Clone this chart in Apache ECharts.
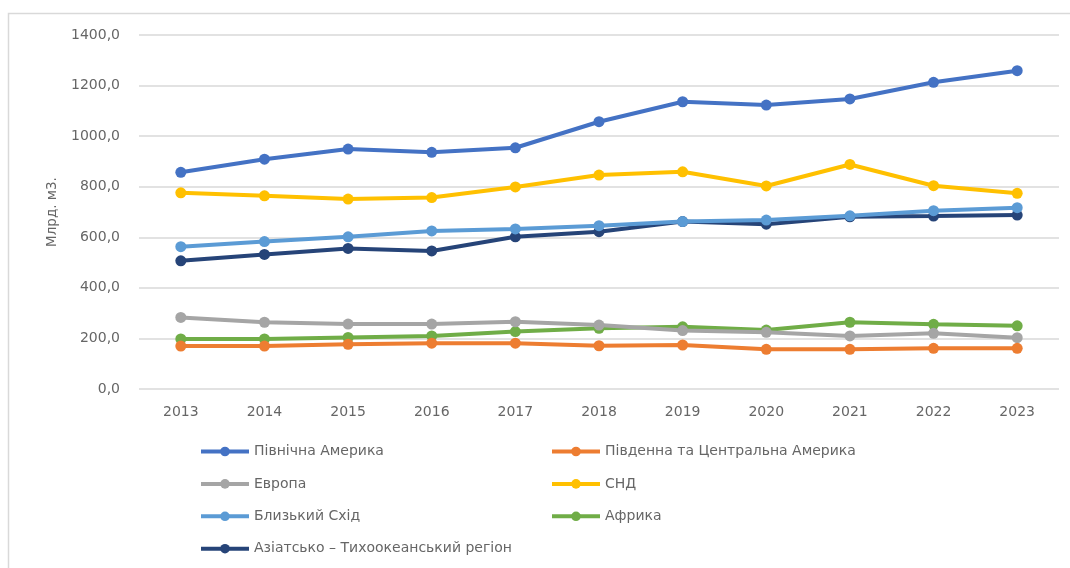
<!DOCTYPE html>
<html>
<head>
<meta charset="utf-8">
<script src="https://cdn.jsdelivr.net/npm/echarts@6/dist/echarts.min.js"></script>
<style>
  html, body { margin: 0; padding: 0; background: #ffffff; }
  #chart { width: 1070px; height: 568px; }
</style>
</head>
<body>
<div id="chart"></div>
<script>
// Natural gas production by region, bcm
const years = ['2013', '2014', '2015', '2016', '2017', '2018', '2019', '2020', '2021', '2022', '2023'];

const northAmerica   = [857, 909, 949, 936, 954, 1057, 1136, 1123, 1147, 1213, 1259];
const southCentral   = [170, 170, 177, 181, 181, 171, 174, 157, 157, 161, 161];
const europe         = [283, 264, 257, 257, 266, 253, 231, 224, 210, 220, 203];
const cis            = [776, 764, 751, 757, 799, 846, 859, 803, 888, 804, 774];
const middleEast     = [563, 583, 602, 625, 633, 646, 662, 668, 685, 705, 717];
const africa         = [198, 198, 204, 210, 227, 240, 246, 233, 264, 256, 250];
const asiaPacific    = [507, 532, 556, 546, 602, 622, 662, 652, 681, 684, 688];

const seriesNames = [
  'Північна Америка',
  'Південна та Центральна Америка',
  'Европа',
  'СНД',
  'Близький Схід',
  'Африка',
  'Азіатсько – Тихоокеанський регіон'
];
const seriesData = [northAmerica, southCentral, europe, cis, middleEast, africa, asiaPacific];
const seriesColors = ['#4472C4', '#ED7D31', '#A5A5A5', '#FFC000', '#5B9BD5', '#70AD47', '#264478'];

const yTicks = { min: 0, max: 1400, interval: 200 };
const fontFamily = '"DejaVu Sans", "Noto Sans", sans-serif';
const textColor = '#666666';

const chart = echarts.init(document.getElementById('chart'), null, { renderer: 'canvas' });

const legendCommon = {
  orient: 'vertical',
  padding: 0,
  height: 140,
  itemWidth: 48,
  itemHeight: 12,
  itemGap: 18.4,
  lineStyle: { width: 4 },
  textStyle: { color: textColor, fontSize: 14, fontFamily: fontFamily },
  selectedMode: false
};

chart.setOption({
  animation: false,
  backgroundColor: '#ffffff',
  color: seriesColors,
  graphic: [{
    type: 'rect',
    shape: { x: 8.5, y: 13.5, width: 1080, height: 580 },
    style: { fill: 'none', stroke: '#d9d9d9', lineWidth: 1.5 },
    silent: true
  }],
  grid: { left: 139, right: 11, top: 35, bottom: 179, containLabel: false },
  legend: [
    Object.assign({}, legendCommon, {
      left: 199, top: 444.5,
      data: [seriesNames[0], seriesNames[2], seriesNames[4], seriesNames[6]]
    }),
    Object.assign({}, legendCommon, {
      left: 550, top: 444.5,
      data: [seriesNames[1], seriesNames[3], seriesNames[5]]
    })
  ],
  xAxis: {
    type: 'category',
    data: years,
    boundaryGap: true,
    axisLine: { show: false },
    axisTick: { show: false },
    axisLabel: { color: textColor, fontSize: 14, fontFamily: fontFamily, margin: 16 }
  },
  yAxis: {
    type: 'value',
    min: yTicks.min,
    max: yTicks.max,
    interval: yTicks.interval,
    name: 'Млрд. м3.',
    nameLocation: 'middle',
    nameGap: 80,
    nameRotate: 90,
    nameTextStyle: { color: textColor, fontSize: 13.5, fontFamily: fontFamily },
    axisLine: { show: false },
    axisTick: { show: false },
    splitLine: { lineStyle: { color: '#d9d9d9', width: 1.5 } },
    axisLabel: {
      color: textColor, fontSize: 14, fontFamily: fontFamily, margin: 19,
      formatter: v => v.toFixed(1).replace('.', ',')
    }
  },
  series: seriesNames.map((name, i) => ({
    name: name,
    type: 'line',
    data: seriesData[i],
    symbol: 'circle',
    symbolSize: 11,
    lineStyle: { width: 4, color: seriesColors[i] },
    itemStyle: { color: seriesColors[i] },
    z: 10 - i
  }))
});
</script>
</body>
</html>
